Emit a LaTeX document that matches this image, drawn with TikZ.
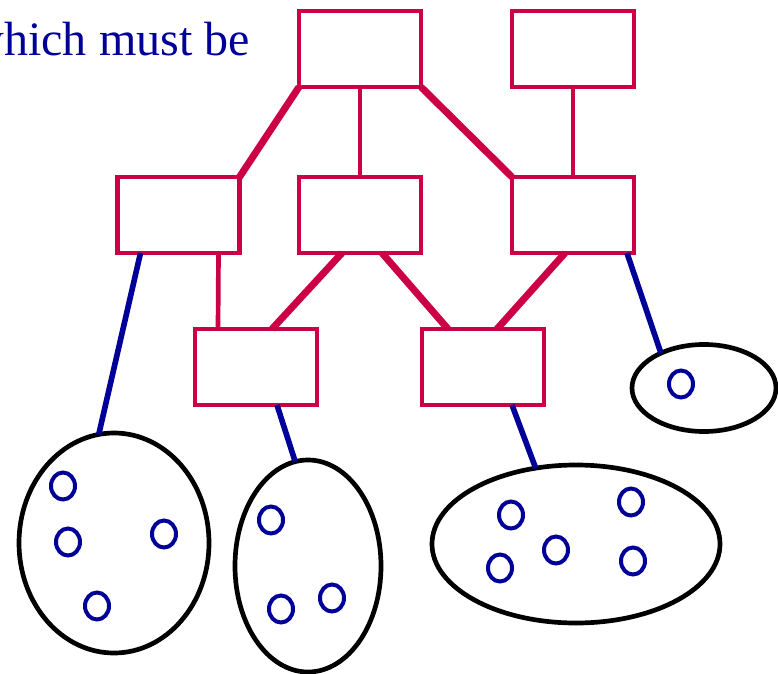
\documentclass[tikz,border=0pt]{standalone}
\usepackage{fontspec}
\setmainfont{Liberation Serif}
\usetikzlibrary{shapes.geometric,calc}

\definecolor{boxred}{RGB}{204,0,68}
\definecolor{setblue}{RGB}{0,0,153}

\tikzset{
	cls/.style={draw=boxred, line width=4pt, minimum width=3.66cm, minimum height=2.28cm, inner sep=0pt, outer sep=0pt},
	extent/.style={draw=black, ellipse, line width=4pt, inner sep=0pt, outer sep=0pt},
	obj/.style={draw=setblue, ellipse, line width=3.4pt, minimum width=0.72cm, minimum height=0.81cm, inner sep=0pt},
	isa/.style={boxred, line width=6pt},
	sub/.style={boxred, line width=4pt},
	inst/.style={setblue, line width=4.8pt},
}

\begin{document}
\begin{tikzpicture}[x=0.03cm, y=-0.03cm]
	\useasboundingbox (0,0) rectangle (778,674);
	\clip (0,0) rectangle (778,674);
	
	% Caption text
	\node[setblue, anchor=base east, inner sep=0pt, font=\fontsize{41}{49}\selectfont] (cap) at (250,56) {which must be};
	
	% Class boxes
	\node[cls] (t1) at (360,49) {};
	\node[cls] (t2) at (573,49) {};
	\node[cls] (m1) at (178.5,215) {};
	\node[cls] (m2) at (360,215) {};
	\node[cls] (m3) at (573,215) {};
	\node[cls] (l1) at (256,367) {};
	\node[cls] (l2) at (483,367) {};
	
	% Extents
	\node[extent, minimum width=5.7cm, minimum height=6.6cm] (e1) at (114,543) {};
	\node[extent, minimum width=4.38cm, minimum height=6.36cm] (e2) at (308,566) {};
	\node[extent, minimum width=8.64cm, minimum height=4.74cm] (e3) at (576,544) {};
	\node[extent, minimum width=4.32cm, minimum height=2.61cm] (e4) at (704,388) {};
	
	% Hierarchy links
	\draw[isa] (t1.south west) -- (m1.north east);
	\draw[sub] (t1.south) -- (m2.north);
	\draw[isa] (t1.south east) -- (m3.north west);
	\draw[sub] (t2.south) -- (m3.north);
	\draw[sub] ($(m1.south)+(40,0)$) -- ($(l1.north)+(-38,0)$);
	\draw[isa] ($(m2.south)+(-18,0)$) -- ($(l1.north)+(16,0)$);
	\draw[isa] ($(m2.south)+(22,0)$) -- ($(l2.north)+(-35,0)$);
	\draw[isa] ($(m3.south)+(-8,0)$) -- ($(l2.north)+(14,0)$);
	
	% Class to extent links
	\draw[inst] ($(m1.south)+(-38,0)$) -- (e1.98);
	\draw[inst] ($(l1.south)+(21,0)$) -- (e2.97);
	\draw[inst] ($(l2.south)+(29,0)$) -- (e3.118);
	\draw[inst] ($(m3.south)+(54,0)$) -- (e4.141);
	
	% Objects
	\foreach \p/\n in {(63,486)/a1, (68,542)/a2, (164,534)/a3, (97,606)/a4,
		(271,520)/b1, (281,609)/b2, (332,598)/b3,
		(511,515)/c1, (500,568)/c2, (556,550)/c3, (631,502)/c4, (633,561)/c5,
		(681,384)/d1}
		\node[obj] (\n) at \p {};
	
\end{tikzpicture}
\end{document}
